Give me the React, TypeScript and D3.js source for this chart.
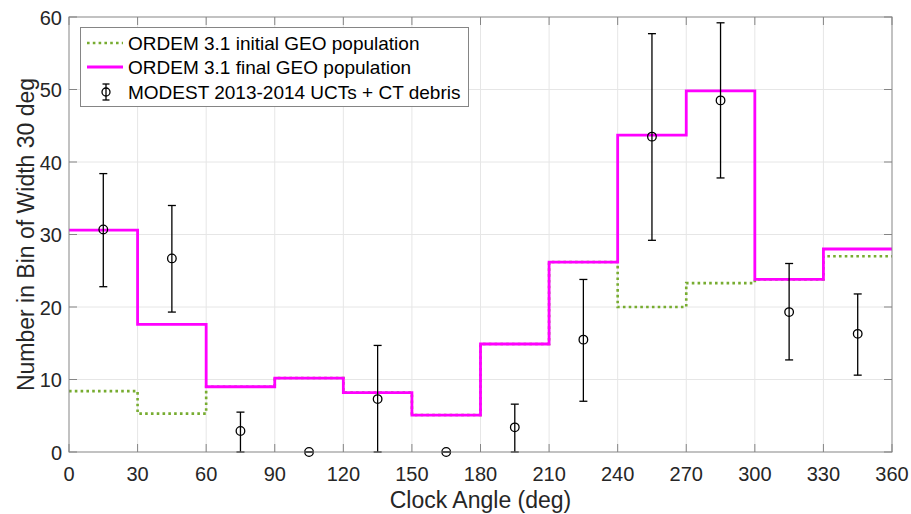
import React, { useEffect, useRef } from 'react';
import * as d3 from 'd3';

// bins of 30 deg (left edges)
const binEdges = [0, 30, 60, 90, 120, 150, 180, 210, 240, 270, 300, 330];
const initialCounts = [8.4, 5.3, 9.0, 10.2, 8.2, 5.1, 14.9, 26.2, 20.0, 23.3, 23.8, 27.0];
const finalCounts = [30.6, 17.6, 9.0, 10.2, 8.2, 5.1, 14.9, 26.2, 43.7, 49.8, 23.8, 28.0];

// MODEST measurements at bin centers
const modestAngles = [15, 45, 75, 105, 135, 165, 195, 225, 255, 285, 315, 345];
const modestCounts = [30.7, 26.7, 2.9, 0, 7.3, 0, 3.4, 15.5, 43.5, 48.5, 19.3, 16.3];
const modestUpper = [38.4, 34.0, 5.5, 0, 14.7, 0, 6.6, 23.8, 57.7, 59.2, 26.0, 21.8];
const modestLower = [22.8, 19.3, 0, 0, 0, 0, 0, 7.0, 29.2, 37.8, 12.7, 10.6];

const xTicks = [0, 30, 60, 90, 120, 150, 180, 210, 240, 270, 300, 330, 360];
const yTicks = [0, 10, 20, 30, 40, 50, 60];

const legendLabels = [
  'ORDEM 3.1 initial GEO population',
  'ORDEM 3.1 final GEO population',
  'MODEST 2013-2014 UCTs + CT debris',
];

const W = 911;
const H = 514;
const FONT = '"Liberation Sans", Arial, Helvetica, sans-serif';
const TEXT = '#262626';
const AXIS = '#858585';
const GRID = '#e6e6e6';
const GREEN = '#77ac30';
const MAGENTA = '#ff00ff';

const App: React.FC = () => {
  const ref = useRef<SVGSVGElement>(null);

  useEffect(() => {
    const svg = d3.select(ref.current);
    svg.selectAll('*').remove();

    const left = 69, right = 892, top = 17, bottom = 452;
    const x = d3.scaleLinear().domain([0, 360]).range([left, right]);
    const y = d3.scaleLinear().domain([0, 60]).range([bottom, top]);

    svg.append('rect').attr('width', W).attr('height', H).attr('fill', '#fff');

    // grid
    const grid = svg.append('g').attr('stroke', GRID).attr('stroke-width', 1);
    xTicks.slice(1, -1).forEach(t => {
      grid.append('line').attr('x1', x(t)).attr('x2', x(t)).attr('y1', top).attr('y2', bottom);
    });
    yTicks.slice(1, -1).forEach(t => {
      grid.append('line').attr('x1', left).attr('x2', right).attr('y1', y(t)).attr('y2', y(t));
    });

    // step lines
    const stepLine = d3.line<[number, number]>()
      .x(d => x(d[0]))
      .y(d => y(d[1]))
      .curve(d3.curveStepAfter);
    const toSteps = (vals: number[]): [number, number][] => {
      const pts: [number, number][] = binEdges.map((e, i) => [e, vals[i]]);
      pts.push([360, vals[vals.length - 1]]);
      return pts;
    };

    svg.append('path')
      .attr('d', stepLine(toSteps(initialCounts)))
      .attr('fill', 'none')
      .attr('stroke', GREEN)
      .attr('stroke-width', 2.6)
      .attr('stroke-dasharray', '2.6,3.2');

    svg.append('path')
      .attr('d', stepLine(toSteps(finalCounts)))
      .attr('fill', 'none')
      .attr('stroke', MAGENTA)
      .attr('stroke-width', 2.8);

    // error bars
    const eb = svg.append('g').attr('stroke', '#000').attr('stroke-width', 1.3).attr('fill', 'none');
    modestAngles.forEach((a, i) => {
      const cx = x(a);
      eb.append('line').attr('x1', cx).attr('x2', cx).attr('y1', y(modestLower[i])).attr('y2', y(modestUpper[i]));
      [modestLower[i], modestUpper[i]].forEach(v => {
        eb.append('line').attr('x1', cx - 4).attr('x2', cx + 4).attr('y1', y(v)).attr('y2', y(v));
      });
      eb.append('circle').attr('cx', cx).attr('cy', y(modestCounts[i])).attr('r', 4.3);
    });

    // axes box and ticks
    const ax = svg.append('g').attr('stroke', AXIS).attr('stroke-width', 1);
    ax.append('rect')
      .attr('x', left).attr('y', top)
      .attr('width', right - left).attr('height', bottom - top)
      .attr('fill', 'none');
    const tl = 8;
    xTicks.forEach(t => {
      ax.append('line').attr('x1', x(t)).attr('x2', x(t)).attr('y1', bottom).attr('y2', bottom - tl);
      ax.append('line').attr('x1', x(t)).attr('x2', x(t)).attr('y1', top).attr('y2', top + tl);
    });
    yTicks.forEach(t => {
      ax.append('line').attr('x1', left).attr('x2', left + tl).attr('y1', y(t)).attr('y2', y(t));
      ax.append('line').attr('x1', right).attr('x2', right - tl).attr('y1', y(t)).attr('y2', y(t));
    });

    // tick labels
    svg.append('g')
      .selectAll('text')
      .data(xTicks)
      .enter()
      .append('text')
      .attr('x', d => x(d))
      .attr('y', 481)
      .attr('text-anchor', 'middle')
      .style('font-family', FONT)
      .style('font-size', '20px')
      .attr('fill', TEXT)
      .text(d => d);

    svg.append('g')
      .selectAll('text')
      .data(yTicks)
      .enter()
      .append('text')
      .attr('x', 62)
      .attr('y', d => y(d) + 7.5)
      .attr('text-anchor', 'end')
      .style('font-family', FONT)
      .style('font-size', '20px')
      .attr('fill', TEXT)
      .text(d => d);

    // axis titles
    svg.append('text')
      .attr('x', (left + right) / 2)
      .attr('y', 508)
      .attr('text-anchor', 'middle')
      .style('font-family', FONT)
      .style('font-size', '23px')
      .attr('fill', TEXT)
      .text('Clock Angle (deg)');

    svg.append('text')
      .attr('transform', `translate(34, ${(top + bottom) / 2}) rotate(-90)`)
      .attr('text-anchor', 'middle')
      .style('font-family', FONT)
      .style('font-size', '23px')
      .attr('fill', TEXT)
      .text('Number in Bin of Width 30 deg');

    // legend
    const lg = svg.append('g');
    lg.append('rect')
      .attr('x', 80.5).attr('y', 27.5)
      .attr('width', 388).attr('height', 79)
      .attr('fill', '#fff')
      .attr('stroke', AXIS)
      .attr('stroke-width', 1);
    const rowY = [43, 67, 92];
    lg.append('line')
      .attr('x1', 87).attr('x2', 123).attr('y1', rowY[0]).attr('y2', rowY[0])
      .attr('stroke', GREEN).attr('stroke-width', 2.6).attr('stroke-dasharray', '2.6,3.2');
    lg.append('line')
      .attr('x1', 87).attr('x2', 123).attr('y1', rowY[1]).attr('y2', rowY[1])
      .attr('stroke', MAGENTA).attr('stroke-width', 2.8);
    const lx = 106;
    lg.append('line').attr('x1', lx).attr('x2', lx).attr('y1', rowY[2] - 8).attr('y2', rowY[2] + 8)
      .attr('stroke', '#000').attr('stroke-width', 1.3);
    [-8, 8].forEach(o => {
      lg.append('line').attr('x1', lx - 3.5).attr('x2', lx + 3.5).attr('y1', rowY[2] + o).attr('y2', rowY[2] + o)
        .attr('stroke', '#000').attr('stroke-width', 1.3);
    });
    lg.append('circle').attr('cx', lx).attr('cy', rowY[2]).attr('r', 4)
      .attr('fill', 'none').attr('stroke', '#000').attr('stroke-width', 1.3);

    lg.selectAll('text.lbl')
      .data(legendLabels)
      .enter()
      .append('text')
      .attr('class', 'lbl')
      .attr('x', 128)
      .attr('y', (_, i) => rowY[i] + 7)
      .style('font-family', FONT)
      .style('font-size', '19px')
      .attr('fill', '#000')
      .text(d => d);
  }, []);

  return (
    <div style={{ position: 'absolute', left: 0, top: 0, width: W, height: H }}>
      <svg ref={ref} width={W} height={H} style={{ display: 'block' }} />
    </div>
  );
};

export default App;
